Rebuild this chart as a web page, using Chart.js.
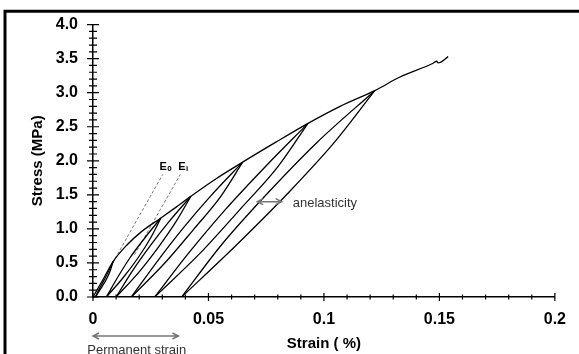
<!DOCTYPE html>
<html>
<head>
<meta charset="utf-8">
<script src="https://cdn.jsdelivr.net/npm/chart.js@4.4.1/dist/chart.umd.min.js"></script>
<style>
  html, body { margin: 0; padding: 0; background: #fff; }
  canvas { display: block; }
</style>
</head>
<body>
<canvas id="chart" width="579" height="354"></canvas>
<script>
// axis ranges / ticks
const xRange = [0, 0.2];
const yRange = [0, 4.0];
const xStep = 0.05;
const yStep = 0.5;
const xMinorStep = 0.01;
const yMinorStep = 0.1;

// loading envelope
const envStrain = [0, 0.0044, 0.0087, 0.0146, 0.021, 0.0294, 0.036, 0.0424, 0.053, 0.0648, 0.079, 0.0931, 0.107, 0.122, 0.1329, 0.1473, 0.1488, 0.1495, 0.1538];
const envStress = [0, 0.26, 0.52, 0.76, 0.96, 1.16, 1.32, 1.48, 1.73, 1.98, 2.27, 2.55, 2.80, 3.03, 3.23, 3.433, 3.462, 3.438, 3.53];

// unloading / reloading loops (stress levels, unload strain, reload strain)
const loop1Stress = [0, 0.13, 0.26, 0.39, 0.52];
const loop1Unload = [0.001, 0.0035, 0.0058, 0.0075, 0.0087];
const loop1Reload = [0.001, 0.0029, 0.0050, 0.0069, 0.0087];

const loop2Stress = [0, 0.29, 0.58, 0.87, 1.16];
const loop2Unload = [0.0058, 0.0132, 0.0196, 0.025, 0.0294];
const loop2Reload = [0.0058, 0.0107, 0.0161, 0.0225, 0.0294];

const loop3Stress = [0, 0.37, 0.74, 1.11, 1.48];
const loop3Unload = [0.010, 0.020, 0.0285, 0.036, 0.0424];
const loop3Reload = [0.010, 0.0168, 0.0245, 0.033, 0.0424];

const loop4Stress = [0, 0.495, 0.99, 1.485, 1.98];
const loop4Unload = [0.0166, 0.031, 0.0435, 0.0555, 0.0648];
const loop4Reload = [0.0166, 0.0272, 0.0385, 0.051, 0.0648];

const loop5Stress = [0, 0.64, 1.28, 1.91, 2.55];
const loop5Unload = [0.0267, 0.0463, 0.0635, 0.080, 0.0931];
const loop5Reload = [0.0267, 0.0413, 0.0572, 0.0745, 0.0931];

const loop6Stress = [0, 0.76, 1.52, 2.27, 3.03];
const loop6Unload = [0.0384, 0.062, 0.0843, 0.1045, 0.122];
const loop6Reload = [0.0384, 0.0555, 0.0755, 0.097, 0.122];

// tangent moduli (dashed)
const e0Strain = [0.0085, 0.0302];
const e0Stress = [0.50, 1.80];
const eiStrain = [0.018, 0.0378];
const eiStress = [0.62, 1.80];

// annotations
const anelasticArrow = [0.0711, 0.0817, 1.40];
const permanentArrow = [0, 0.037];

const FONT = '"Liberation Sans", Arial, sans-serif';

const toPoints = (xs, ys) => xs.map((v, i) => ({ x: v, y: ys[i] }));

const curve = (xs, ys) => ({
    data: toPoints(xs, ys),
    showLine: true,
    borderColor: '#000',
    borderWidth: 1.3,
    pointRadius: 0,
    cubicInterpolationMode: 'monotone'
});

const dashed = (xs, ys) => ({
    data: toPoints(xs, ys),
    showLine: true,
    borderColor: '#555',
    borderWidth: 0.8,
    borderDash: [3, 2],
    pointRadius: 0
});

const loops = [
    [loop1Stress, loop1Unload, loop1Reload],
    [loop2Stress, loop2Unload, loop2Reload],
    [loop3Stress, loop3Unload, loop3Reload],
    [loop4Stress, loop4Unload, loop4Reload],
    [loop5Stress, loop5Unload, loop5Reload],
    [loop6Stress, loop6Unload, loop6Reload]
];

const datasets = [curve(envStrain, envStress)];
loops.forEach(([s, u, r]) => {
    datasets.push(curve(u, s));
    datasets.push(curve(r, s));
});
datasets.push(dashed(e0Strain, e0Stress));
datasets.push(dashed(eiStrain, eiStress));

// double-headed open arrow
function arrow(ctx, x1, x2, y) {
    const h = 6, w = 3;
    ctx.beginPath();
    ctx.moveTo(x1, y); ctx.lineTo(x2, y);
    ctx.moveTo(x1 + h, y - w); ctx.lineTo(x1, y); ctx.lineTo(x1 + h, y + w);
    ctx.moveTo(x2 - h, y - w); ctx.lineTo(x2, y); ctx.lineTo(x2 - h, y + w);
    ctx.stroke();
}

// frame + crossing tick marks
const axisTicks = {
    id: 'axisTicks',
    afterDraw(chart) {
        const { ctx, chartArea, scales: { x, y } } = chart;
        ctx.save();
        ctx.strokeStyle = '#000';
        ctx.lineWidth = 1.2;
        ctx.beginPath();
        const ny = Math.round((yRange[1] - yRange[0]) / yMinorStep);
        for (let i = 0; i <= ny; i++) {
            const py = y.getPixelForValue(yRange[0] + i * yMinorStep);
            const len = i % 5 === 0 ? 6 : 4;
            ctx.moveTo(chartArea.left - len, py);
            ctx.lineTo(chartArea.left + len, py);
        }
        const nx = Math.round((xRange[1] - xRange[0]) / xMinorStep);
        for (let i = 0; i <= nx; i++) {
            const px = x.getPixelForValue(xRange[0] + i * xMinorStep);
            const len = i % 5 === 0 ? 4 : 2.5;
            ctx.moveTo(px, chartArea.bottom - len);
            ctx.lineTo(px, chartArea.bottom + len);
        }
        ctx.stroke();

        // outer frame (left + top)
        ctx.lineWidth = 3;
        ctx.beginPath();
        ctx.moveTo(5, 354);
        ctx.lineTo(5, 11.3);
        ctx.lineTo(579, 11.3);
        ctx.stroke();
        ctx.restore();
    }
};

// text labels and arrows
const annotations = {
    id: 'annotations',
    afterDatasetsDraw(chart) {
        const { ctx, chartArea, scales: { x, y } } = chart;
        ctx.save();

        // E0, Ei labels
        ctx.fillStyle = '#000';
        ctx.textBaseline = 'alphabetic';
        const sub = (px, py, s) => {
            ctx.font = 'bold 11px ' + FONT;
            ctx.fillText('E', px, py);
            const w = ctx.measureText('E').width;
            ctx.font = 'bold 8px ' + FONT;
            ctx.fillText(s, px + w + 0.5, py + 1);
        };
        sub(x.getPixelForValue(0.0288), y.getPixelForValue(1.87), '0');
        sub(x.getPixelForValue(0.0369), y.getPixelForValue(1.87), 'i');

        // anelasticity
        ctx.strokeStyle = '#777';
        ctx.lineWidth = 1.5;
        const ay = y.getPixelForValue(anelasticArrow[2]);
        arrow(ctx, x.getPixelForValue(anelasticArrow[0]), x.getPixelForValue(anelasticArrow[1]), ay);
        ctx.fillStyle = '#333';
        ctx.font = '13px ' + FONT;
        ctx.textAlign = 'left';
        ctx.textBaseline = 'middle';
        ctx.fillText('anelasticity', x.getPixelForValue(0.0865), ay + 2);

        // permanent strain
        const py = chartArea.bottom + 39;
        const p1 = x.getPixelForValue(permanentArrow[0]);
        const p2 = x.getPixelForValue(permanentArrow[1]);
        arrow(ctx, p1, p2, py);
        ctx.textAlign = 'center';
        ctx.fillText('Permanent strain', (p1 + p2) / 2 + 1, chartArea.bottom + 53);
        ctx.restore();
    }
};

new Chart(document.getElementById('chart'), {
    type: 'scatter',
    data: { datasets },
    options: {
        responsive: false,
        animation: false,
        layout: { padding: { top: 24, right: 24, left: 0, bottom: 0 } },
        plugins: { legend: { display: false }, tooltip: { enabled: false } },
        scales: {
            x: {
                type: 'linear',
                min: xRange[0],
                max: xRange[1],
                afterFit: (s) => { s.height = 57; },
                grid: { display: false, drawTicks: false },
                border: { display: true, color: '#000', width: 1.5 },
                ticks: {
                    stepSize: xStep,
                    padding: 13,
                    color: '#000',
                    font: { family: FONT, size: 16, weight: 'bold' },
                    callback: (v) => String(+v.toFixed(2))
                },
                title: {
                    display: true,
                    text: 'Strain ( %)',
                    color: '#000',
                    font: { family: FONT, size: 15, weight: 'bold' },
                    padding: { top: 0, bottom: 1 }
                }
            },
            y: {
                type: 'linear',
                min: yRange[0],
                max: yRange[1],
                afterFit: (s) => { s.width = 93; },
                grid: { display: false, drawTicks: false },
                border: { display: true, color: '#000', width: 1.5 },
                ticks: {
                    stepSize: yStep,
                    padding: 15,
                    color: '#000',
                    font: { family: FONT, size: 16, weight: 'bold' },
                    callback: (v) => v.toFixed(1)
                },
                title: {
                    display: true,
                    text: 'Stress (MPa)',
                    color: '#000',
                    font: { family: FONT, size: 15, weight: 'bold' },
                    padding: { top: 29, bottom: 0 }
                }
            }
        }
    },
    plugins: [axisTicks, annotations]
});
</script>
</body>
</html>
